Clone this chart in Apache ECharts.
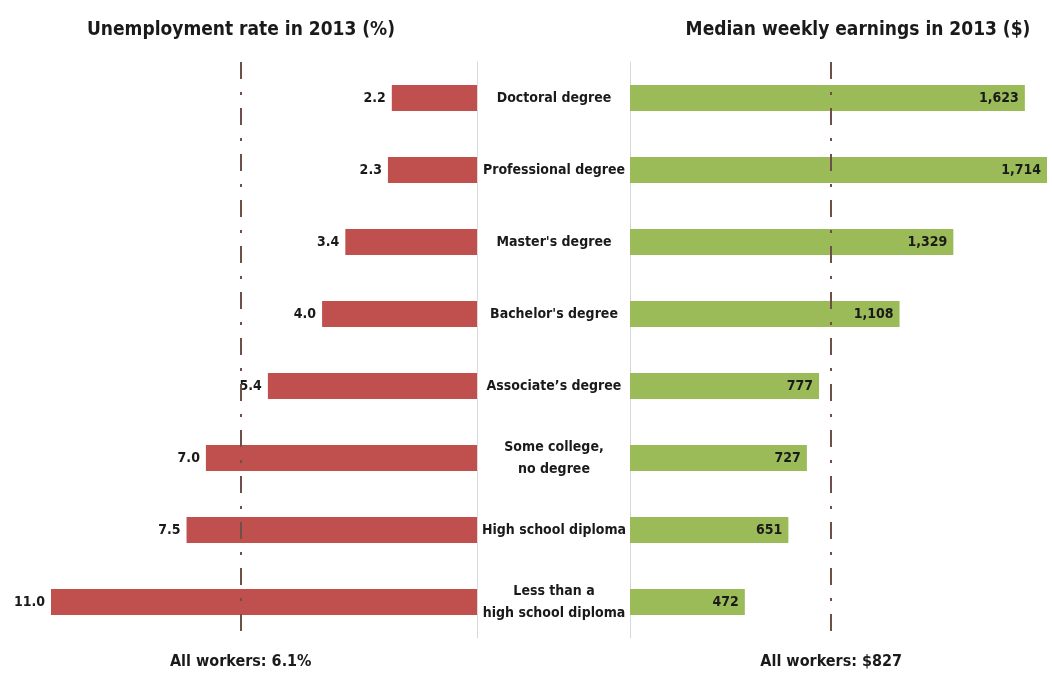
<!DOCTYPE html>
<html><head><meta charset="utf-8">
<script src="https://cdn.jsdelivr.net/npm/echarts@6/dist/echarts.min.js"></script>
<style>html,body{margin:0;padding:0;background:#fff}#c{width:1052px;height:681px}</style>
</head><body><div id="c"></div>
<script>
const categories = ["Doctoral degree","Professional degree","Master's degree","Bachelor's degree","Associate\u2019s degree","Some college,\nno degree","High school diploma","Less than a\nhigh school diploma"];
const unemployment = [2.2, 2.3, 3.4, 4.0, 5.4, 7.0, 7.5, 11.0];
const earnings = [1623, 1714, 1329, 1108, 777, 727, 651, 472];
const allUnemp = 6.1;
const allEarn = 827;
const titles = ["Unemployment rate in 2013 (%)", "Median weekly earnings in 2013 ($)"];

const FONT = '"Liberation Sans Narrow", "DejaVu Sans Condensed", sans-serif';
const chart = echarts.init(document.getElementById('c'), null, {renderer:'canvas'});
const dash = {color:'#6e5048', width:2, type:[17,13,3,13]};
chart.setOption({
  animation:false,
  backgroundColor:'#fff',
  title:[
    {text:titles[0], left:236, top:16, textAlign:'center', textStyle:{fontFamily:FONT, fontSize:19, fontWeight:'bold', color:'#1a1a1a'}},
    {text:titles[1], left:853, top:16, textAlign:'center', textStyle:{fontFamily:FONT, fontSize:19, fontWeight:'bold', color:'#1a1a1a'}}
  ],
  grid:[
    {left:51, width:426, top:62, height:576},
    {left:630, width:417, top:62, height:576}
  ],
  xAxis:[
    {gridIndex:0, type:'value', min:0, max:11, inverse:true, show:false},
    {gridIndex:1, type:'value', min:0, max:1714, show:false}
  ],
  yAxis:[
    {gridIndex:0, type:'category', data:categories, inverse:true, position:'right',
     axisLine:{show:true, lineStyle:{color:'#d9d9d9', width:1}}, axisTick:{show:false},
     axisLabel:{align:'center', margin:77, fontFamily:FONT, fontSize:14, fontWeight:'bold', color:'#1a1a1a', lineHeight:22}},
    {gridIndex:1, type:'category', data:categories, inverse:true, position:'left',
     axisLine:{show:true, lineStyle:{color:'#d9d9d9', width:1}}, axisTick:{show:false}, axisLabel:{show:false}}
  ],
  series:[
    {type:'bar', xAxisIndex:0, yAxisIndex:0, data:unemployment, barWidth:26,
     itemStyle:{color:'#c0504d'},
     label:{show:true, position:'left', distance:6, fontFamily:FONT, fontSize:14, fontWeight:'bold', color:'#1a1a1a',
            formatter:p=>p.value.toFixed(1)},
     markLine:{silent:true, symbol:'none', lineStyle:dash,
       label:{show:true, position:'end', distance:16, fontFamily:FONT, fontSize:16, fontWeight:'bold', color:'#1a1a1a',
              formatter:'All workers: ' + allUnemp + '%'},
       data:[{xAxis:allUnemp}]}},
    {type:'bar', xAxisIndex:1, yAxisIndex:1, data:earnings, barWidth:26,
     itemStyle:{color:'#9bbb59'},
     label:{show:true, position:'insideRight', distance:6, fontFamily:FONT, fontSize:14, fontWeight:'bold', color:'#1a1a1a',
            formatter:p=>p.value.toLocaleString('en-US')},
     markLine:{silent:true, symbol:'none', lineStyle:dash,
       label:{show:true, position:'end', distance:16, fontFamily:FONT, fontSize:16, fontWeight:'bold', color:'#1a1a1a',
              formatter:'All workers: $' + allEarn},
       data:[{xAxis:allEarn}]}}
  ]
});
</script></body></html>
